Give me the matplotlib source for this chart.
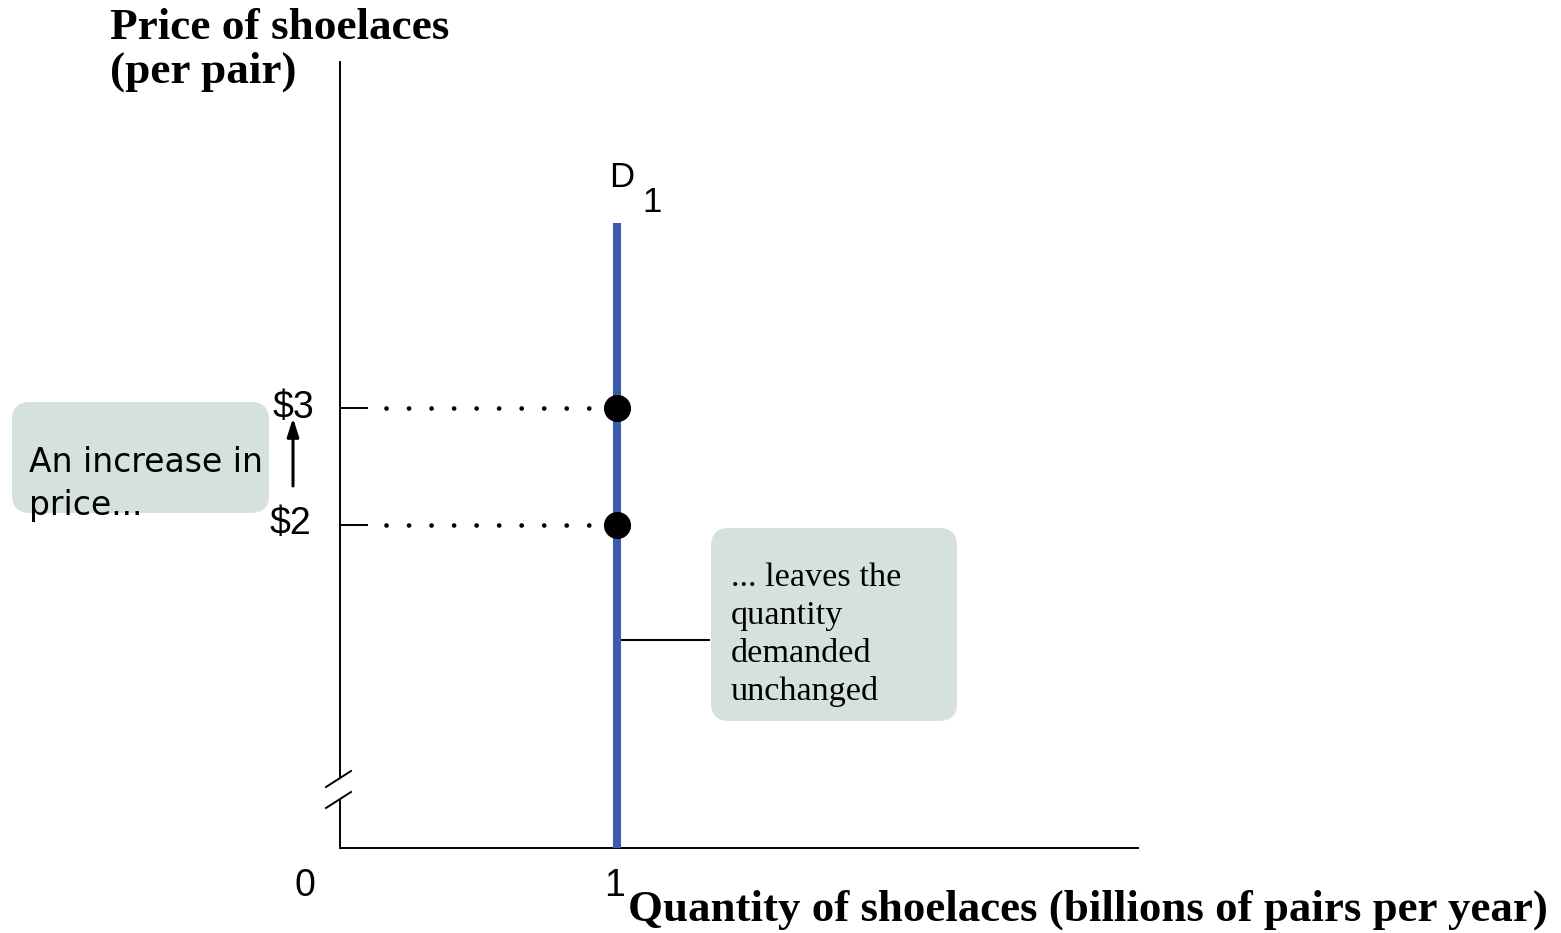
import matplotlib
matplotlib.use("Agg")
import matplotlib.pyplot as plt
from matplotlib.patches import FancyBboxPatch
from matplotlib.lines import Line2D

# ---- data ----
prices = [2, 3]
price_labels = ["$2", "$3"]
quantity = 1
demand_label = "D"
demand_sub = "1"
demand_top = 4.58
x_ticks = [0, 1]
x_tick_labels = ["0", "1"]
y_title = ["Price of shoelaces", "(per pair)"]
x_title = "Quantity of shoelaces (billions of pairs per year)"
left_note = ["An increase in", "price..."]
right_note = ["... leaves the", "quantity", "demanded", "unchanged"]

W, H = 1561, 933
fig = plt.figure(figsize=(W / 100, H / 100), dpi=100)

# overlay axes in pixel coordinates for annotations
ov = fig.add_axes([0, 0, 1, 1], zorder=0)
ov.set_xlim(0, W)
ov.set_ylim(H, 0)
ov.axis("off")

# main data axes: x 340..1138 px, y 62..848 px
AX_L, AX_R, AX_T, AX_B = 340, 1138, 62, 848
ax = fig.add_axes([AX_L / W, 1 - AX_B / H, (AX_R - AX_L) / W, (AX_B - AX_T) / H], zorder=1)
ax.set_facecolor("none")
PX_PER_Q = 277.0
PX_PER_P = 117.0
xmax = (AX_R - AX_L) / PX_PER_Q
ymin = 2 - (AX_B - 525) / PX_PER_P
ymax = 2 + (525 - AX_T) / PX_PER_P
ax.set_xlim(0, xmax)
ax.set_ylim(ymin, ymax)
for s in ax.spines.values():
    s.set_visible(False)
ax.set_xticks([])
ax.set_yticks([])

blue = "#3B5CAD"
box_c = "#D5E1DF"

# demand curve (vertical)
ax.plot([quantity, quantity], [ymin, demand_top], color=blue, lw=5.8, solid_capstyle="butt", zorder=2)

# price guide lines
for p in prices:
    ax.plot([0, 28 / PX_PER_Q], [p, p], color="black", lw=1.4, solid_capstyle="butt", clip_on=False)
    ax.plot([46 / PX_PER_Q, quantity - 24 / PX_PER_Q], [p, p], color="black", lw=3.4,
            linestyle=(0, (0.01, 4.76)), dash_capstyle="round")
    ax.plot([quantity], [p], "o", color="black", ms=18.5, zorder=3)

# axes lines with break (pixel overlay)
lw_ax = 1.4
ov.add_line(Line2D([AX_L, AX_L], [AX_T, 778], color="black", lw=lw_ax))
ov.add_line(Line2D([AX_L, AX_L], [800, AX_B], color="black", lw=lw_ax))
ov.add_line(Line2D([AX_L, AX_R], [AX_B, AX_B], color="black", lw=lw_ax))
ov.add_line(Line2D([326, 351], [787, 771], color="black", lw=lw_ax))
ov.add_line(Line2D([326, 351], [808, 792], color="black", lw=lw_ax))

# tick labels
sans = "Liberation Sans"
ov.text(305, 896, x_tick_labels[0], ha="center", va="baseline", fontsize=27, family=sans)
ov.text(615, 896, x_tick_labels[1], ha="center", va="baseline", fontsize=27, family=sans)
ov.text(293, 418, price_labels[1], ha="center", va="baseline", fontsize=27, family=sans)
ov.text(290, 534, price_labels[0], ha="center", va="baseline", fontsize=27, family=sans)

# arrow
ov.annotate("", xy=(293, 418), xytext=(293, 486),
            arrowprops=dict(arrowstyle="-|>,head_length=1.1,head_width=0.35", color="black", lw=2.2,
                            shrinkA=0, shrinkB=0))

# D1 label
ov.text(609, 187, demand_label, ha="left", va="baseline", fontsize=25, family=sans)
ov.text(642, 212, demand_sub, ha="left", va="baseline", fontsize=25, family=sans)

renderer = fig.canvas.get_renderer()


def fit(t, target_w):
    bb = t.get_window_extent(renderer)
    t.set_fontsize(t.get_fontsize() * target_w / bb.width)


serif = "Liberation Serif"
# axis titles
t1 = ov.text(110, 39, y_title[0], ha="left", va="baseline", fontsize=20, family=serif, weight="bold")
fit(t1, 339)
ov.text(110, 83, y_title[1], ha="left", va="baseline", fontsize=t1.get_fontsize(), family=serif, weight="bold")
t3 = ov.text(628, 921, x_title, ha="left", va="baseline", fontsize=20, family=serif, weight="bold")
fit(t3, 919)

# left box
ov.add_patch(FancyBboxPatch((12, 402), 257, 111, boxstyle="round,pad=0,rounding_size=18",
                            fc=box_c, ec="none"))
l1 = ov.text(29, 472, left_note[0], ha="left", va="baseline", fontsize=20, family="DejaVu Sans")
fit(l1, 234)
ov.text(29, 515, left_note[1], ha="left", va="baseline", fontsize=l1.get_fontsize(), family="DejaVu Sans")

# right box
ov.add_patch(FancyBboxPatch((711, 528), 246, 193, boxstyle="round,pad=0,rounding_size=18",
                            fc=box_c, ec="none"))
r1 = ov.text(731, 586, right_note[0], ha="left", va="baseline", fontsize=18, family=serif)
fit(r1, 171)
for i, line in enumerate(right_note[1:], start=1):
    ov.text(731, 586 + 38 * i, line, ha="left", va="baseline", fontsize=r1.get_fontsize(), family=serif)

# connector
ov.add_line(Line2D([621, 709], [640, 640], color="black", lw=1.5))

fig.savefig("out.png", dpi=100)
